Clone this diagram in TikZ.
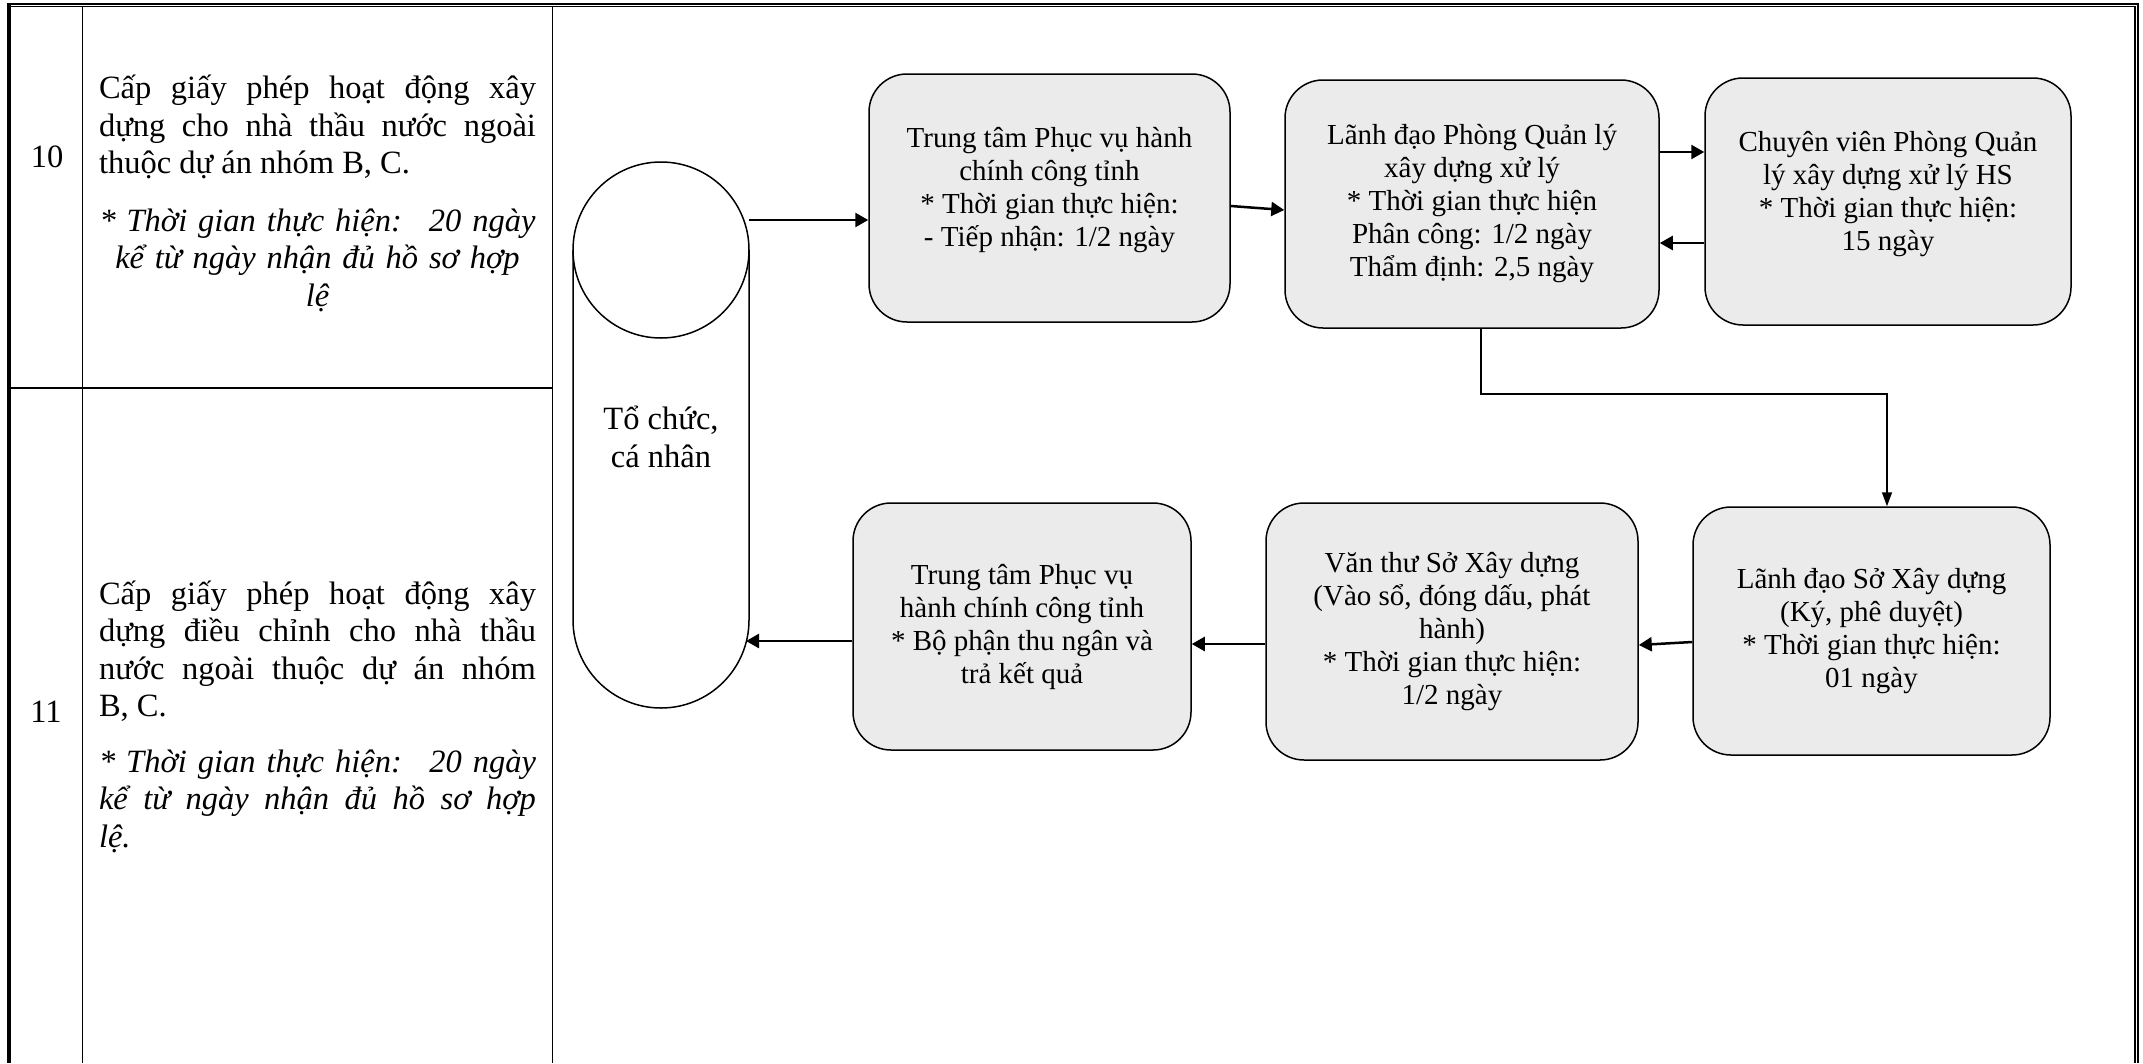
\documentclass[tikz,border=0pt]{standalone}
\usepackage{fontspec}
\setmainfont{Liberation Serif}
\usetikzlibrary{arrows.meta}

\begin{document}
\begin{tikzpicture}[x=1pt, y=-1pt,
    stepbox/.style={draw=black, line width=1.5pt, fill=black!8, rounded corners=38pt, align=center, font=\fontsize{29}{33}\selectfont},
    flow/.style={-{Triangle[length=13pt, width=14pt]}, line width=2.5pt},
    rule/.style={line width=1.8pt},
    celltext/.style={text width=437pt, inner sep=0pt, font=\fontsize{32.5}{37.5}\selectfont}]
    \useasboundingbox (0,0) rectangle (2143,1063);

    % Table frame - double line on top and right
    \draw[line width=2pt] (7,4.3) -- (2139,4.3);
    \draw[line width=1.3pt] (10.7,6.7) -- (2135,6.7);
    \draw[line width=3.4pt] (9,3.3) -- (9,1063);
    \draw[line width=1.3pt] (2135,6) -- (2135,1063);
    \draw[line width=1.7pt] (2138.2,3.3) -- (2138.2,1063);
    % Column and row rules
    \draw[rule] (82.5,7) -- (82.5,1063);
    \draw[rule] (552.5,7) -- (552.5,1063);
    \draw[rule] (10,388) -- (552.5,388);

    % Row numbers
    \node[font=\fontsize{32.5}{37.5}\selectfont] (num10) at (47,157) {10};
    \node[font=\fontsize{32.5}{37.5}\selectfont] (num11) at (46,712) {11};

    % Procedure names
    \node[celltext, align=justify] (title10) at (317.5,127) {Cấp giấy phép hoạt động xây\linebreak dựng cho nhà thầu nước ngoài\linebreak thuộc dự án nhóm B, C.};
    \node[celltext, align=center, font=\fontsize{32.5}{37.5}\selectfont\itshape] (time10) at (317.5,260) {* Thời gian thực hiện:~ 20 ngày\\ kể từ ngày nhận đủ hồ sơ hợp\\ lệ};
    \node[celltext, align=justify] (title11) at (317.5,651) {Cấp giấy phép hoạt động xây\linebreak dựng điều chỉnh cho nhà thầu\linebreak nước ngoài thuộc dự án nhóm\linebreak B, C.};
    \node[celltext, align=justify, font=\fontsize{32.5}{37.5}\selectfont\itshape] (time11) at (317.5,801) {* Thời gian thực hiện:~ 20 ngày\linebreak kể từ ngày nhận đủ hồ sơ hợp\linebreak lệ.};

    % Applicant drum
    \draw[line width=1.5pt] (661,250) ellipse [x radius=88, y radius=88];
    \draw[line width=1.5pt] (573,250) -- (573,620) arc [start angle=180, end angle=0, radius=88] -- (749,250);
    \node[font=\fontsize{32.5}{38}\selectfont, align=center] (org) at (661,437) {Tổ chức,\\cá nhân};
    \coordinate (org-out) at (749,220);
    \coordinate (org-in) at (746,641);

    % Steps, upper row
    \node[stepbox, minimum width=361pt, minimum height=248pt, text depth=22pt] (b1) at (1049.5,198) {Trung tâm Phục vụ hành\\chính công tỉnh\\* Thời gian thực hiện:\\- Tiếp nhận: 1/2 ngày};
    \node[stepbox, minimum width=374pt, minimum height=248pt] (b2) at (1472,204) {Lãnh đạo Phòng Quản lý\\xây dựng xử lý\\* Thời gian thực hiện\\Phân công: 1/2 ngày\\Thẩm định: 2,5 ngày};
    \node[stepbox, minimum width=366pt, minimum height=247pt, text depth=22pt] (b3) at (1888,201.5) {Chuyên viên Phòng Quản\\lý xây dựng xử lý HS\\* Thời gian thực hiện:\\15 ngày};

    % Steps, lower row
    \node[stepbox, minimum width=338pt, minimum height=247pt] (b4) at (1022,626.5) {Trung tâm Phục vụ\\hành chính công tỉnh\\* Bộ phận thu ngân và\\trả kết quả};
    \node[stepbox, minimum width=372pt, minimum height=257pt] (b5) at (1452,631.5) {Văn thư Sở Xây dựng\\(Vào sổ, đóng dấu, phát\\hành)\\* Thời gian thực hiện:\\1/2 ngày};
    \node[stepbox, minimum width=357pt, minimum height=248pt] (b6) at (1871.5,631) {Lãnh đạo Sở Xây dựng\\(Ký, phê duyệt)\\* Thời gian thực hiện:\\01 ngày};

    % Flow arrows
    \draw[flow] (org-out) -- (org-out -| b1.west);
    \draw[flow] ([yshift=-8pt]b1.east) -- ([yshift=-6pt]b2.west);
    \draw[flow] ([yshift=52pt]b2.east) -- ([yshift=49.5pt]b3.west);
    \draw[flow] ([yshift=-41.5pt]b3.west) -- ([yshift=-39pt]b2.east);
    \draw[line width=1.5pt, -{Triangle[length=14pt, width=10pt]}] ([xshift=9pt]b2.south) -- ++(0,65) -| ([xshift=15.5pt]b6.north);
    \draw[flow] ([yshift=-11pt]b6.west) -- ([yshift=-13.5pt]b5.east);
    \draw[flow] ([yshift=-12.5pt]b5.west) -- ([yshift=-17.5pt]b4.east);
    \draw[flow] ([yshift=-14.5pt]b4.west) -- (org-in);
\end{tikzpicture}
\end{document}
